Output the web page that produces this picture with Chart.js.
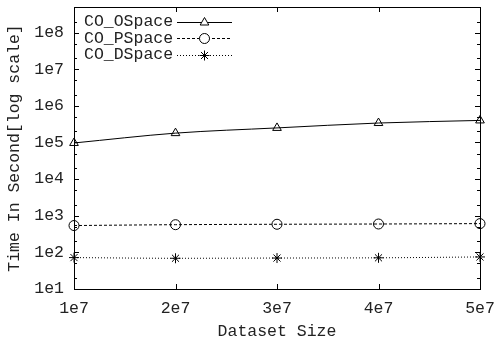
<!DOCTYPE html>
<html>
<head>
<meta charset="utf-8">
<script src="https://cdn.jsdelivr.net/npm/chart.js@4.4.0/dist/chart.umd.min.js"></script>
<style>
  html, body { margin: 0; padding: 0; background: #fff; }
  #wrap { width: 495px; height: 342px; }
</style>
</head>
<body>
<div id="wrap"><canvas id="c" width="495" height="342"></canvas></div>
<script>
// Dataset sizes on the x axis
const datasetSizes = [1e7, 2e7, 3e7, 4e7, 5e7];
// Running time in seconds for each method
const oSpaceTimes = [9.7e4, 1.8e5, 2.5e5, 3.4e5, 4.0e5];
const pSpaceTimes = [540, 570, 585, 595, 610];
const dSpaceTimes = [72, 69, 70, 71, 75];
const seriesNames = ['CO_OSpace', 'CO_PSpace', 'CO_DSpace'];
// Axis ticks
const xTickValues = [1e7, 2e7, 3e7, 4e7, 5e7];
const yMajorTicks = [1e1, 1e2, 1e3, 1e4, 1e5, 1e6, 1e7, 1e8];
const yMinorFactors = [2, 5];

const FONT = "'Liberation Mono', 'Courier New', monospace";
const INK = '#222';

function toPoints(ys) {
  return datasetSizes.map((x, i) => ({ x: x, y: ys[i] }));
}

const common = {
  borderColor: '#000',
  borderWidth: 1,
  pointBorderColor: '#000',
  pointBackgroundColor: 'rgba(0,0,0,0)',
  pointBorderWidth: 1,
  pointRadius: 5,
  tension: 0.4,
  cubicInterpolationMode: 'monotone',
  clip: false,
  fill: false
};

// Inward tick marks on all four sides plus the closed frame
const frameTicks = {
  id: 'frameTicks',
  afterDatasetsDraw(chart) {
    const { ctx, chartArea: a, scales } = chart;
    const xs = scales.x, ys = scales.y;
    ctx.save();
    ctx.strokeStyle = '#000';
    ctx.lineWidth = 1;
    ctx.beginPath();
    xTickValues.forEach(v => {
      const px = Math.round(xs.getPixelForValue(v)) + 0.5;
      ctx.moveTo(px, a.bottom); ctx.lineTo(px, a.bottom - 5);
      ctx.moveTo(px, a.top); ctx.lineTo(px, a.top + 5);
    });
    yMajorTicks.forEach(v => {
      const py = Math.round(ys.getPixelForValue(v)) + 0.5;
      ctx.moveTo(a.left, py); ctx.lineTo(a.left + 5, py);
      ctx.moveTo(a.right, py); ctx.lineTo(a.right - 5, py);
      yMinorFactors.forEach(f => {
        const mv = v * f;
        if (mv > ys.max) return;
        const my = Math.round(ys.getPixelForValue(mv)) + 0.5;
        ctx.moveTo(a.left, my); ctx.lineTo(a.left + 3, my);
        ctx.moveTo(a.right, my); ctx.lineTo(a.right - 3, my);
      });
    });
    ctx.stroke();
    ctx.strokeRect(Math.round(a.left) + 0.5, Math.round(a.top) + 0.5,
                   Math.round(a.right - a.left), Math.round(a.bottom - a.top));
    ctx.restore();
  }
};

// Key in the upper-left corner: name, then a line sample with its marker
const keyBox = {
  id: 'keyBox',
  afterDraw(chart) {
    const { ctx, chartArea: a } = chart;
    ctx.save();
    ctx.font = '16.5px ' + FONT;
    ctx.textBaseline = 'middle';
    ctx.textAlign = 'left';
    chart.data.datasets.forEach((ds, i) => {
      const y = a.top + 15 + i * 16.3;
      ctx.fillStyle = INK;
      ctx.fillText(ds.label, a.left + 10, y);
      const x0 = a.left + 103, x1 = a.left + 158;
      ctx.beginPath();
      ctx.setLineDash(ds.borderDash || []);
      ctx.strokeStyle = '#000';
      ctx.lineWidth = 1;
      ctx.moveTo(x0, Math.round(y) + 0.5);
      ctx.lineTo(x1, Math.round(y) + 0.5);
      ctx.stroke();
      ctx.setLineDash([]);
      ctx.fillStyle = '#fff';
      Chart.helpers.drawPoint(ctx, {
        pointStyle: ds.pointStyle, radius: 5, rotation: 0, borderWidth: 1
      }, (x0 + x1) / 2, Math.round(y) + 0.5);
    });
    ctx.restore();
  }
};

new Chart(document.getElementById('c'), {
  type: 'line',
  data: {
    datasets: [
      Object.assign({}, common, { label: seriesNames[0], data: toPoints(oSpaceTimes), pointStyle: 'triangle', borderDash: [] }),
      Object.assign({}, common, { label: seriesNames[1], data: toPoints(pSpaceTimes), pointStyle: 'circle', borderDash: [3, 2] }),
      Object.assign({}, common, { label: seriesNames[2], data: toPoints(dSpaceTimes), pointStyle: 'star', borderDash: [1, 2] })
    ]
  },
  options: {
    responsive: false,
    devicePixelRatio: 1,
    animation: false,
    layout: { padding: { top: 7, right: 15, left: 0, bottom: 0 } },
    plugins: { legend: { display: false }, tooltip: { enabled: false } },
    scales: {
      x: {
        type: 'linear',
        min: 1e7,
        max: 5e7,
        afterBuildTicks(scale) { scale.ticks = xTickValues.map(v => ({ value: v })); },
        afterFit(scale) { scale.height = 53; scale.paddingLeft = 0; scale.paddingRight = 0; },
        grid: { display: false, drawTicks: false },
        border: { display: false },
        ticks: {
          color: INK, font: { family: FONT, size: 16.5 }, padding: 10, maxRotation: 0,
          callback: v => (v / 1e7) + 'e7'
        },
        title: {
          display: true, text: 'Dataset Size', color: INK,
          font: { family: FONT, size: 16.5 }, padding: { top: 4, bottom: 0 }
        }
      },
      y: {
        type: 'logarithmic',
        min: 10,
        max: 5e8,
        afterBuildTicks(scale) { scale.ticks = yMajorTicks.map(v => ({ value: v })); },
        afterFit(scale) { scale.width = 74; scale.paddingTop = 0; scale.paddingBottom = 0; },
        grid: { display: false, drawTicks: false },
        border: { display: false },
        ticks: {
          color: INK, font: { family: FONT, size: 16.5 }, padding: 10,
          callback: v => '1e' + Math.round(Math.log10(v))
        },
        title: {
          display: true, text: 'Time In Second[log scale]', color: INK,
          font: { family: FONT, size: 16.5 }, padding: { top: 5, bottom: 0 }
        }
      }
    }
  },
  plugins: [frameTicks, keyBox]
});
</script>
</body>
</html>
